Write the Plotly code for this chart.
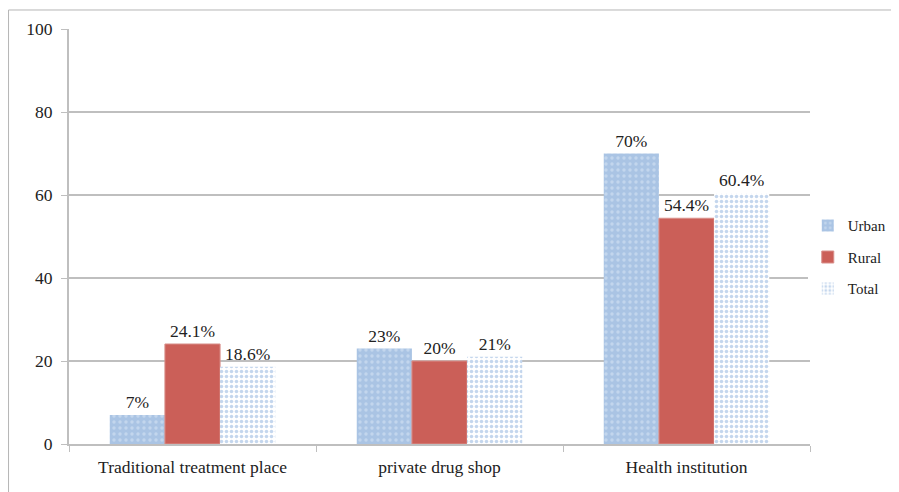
import plotly.graph_objects as go

categories = ["Traditional treatment place", "private drug shop", "Health institution"]
urban = [7, 23, 70]
rural = [24.1, 20, 54.4]
total = [18.6, 21, 60.4]
y_ticks = [0, 20, 40, 60, 80, 100]

FONT = "Liberation Serif"
FS = 17.5

def labels(vals):
    return [f"{v:g}%" for v in vals]

fig = go.Figure()
fig.add_trace(go.Bar(
    name="Urban", x=categories, y=urban, text=labels(urban),
    textposition="outside", legendgroup="u",
    marker=dict(color="#adc6e5", line=dict(width=0),
                pattern=dict(shape=".", bgcolor="#aac4e4", fgcolor="#dbe7f5", size=6, solidity=0.25)),
))
fig.add_trace(go.Bar(
    name="Rural", x=categories, y=rural, text=labels(rural),
    textposition="outside", legendgroup="r",
    marker=dict(color="#cb5f58", line=dict(width=1, color="#d9908b")),
))
fig.add_trace(go.Bar(
    name="Total", x=categories, y=total, text=labels(total),
    textposition="outside", legendgroup="t",
    marker=dict(color="white", line=dict(width=0),
                pattern=dict(shape=".", bgcolor="white", fgcolor="#89aedc", size=5, solidity=0.4)),
))

fig.update_traces(textfont=dict(family=FONT, size=FS, color="#222222"), cliponaxis=False)

fig.update_layout(
    width=899, height=492,
    margin=dict(l=61, r=97, t=21, b=56, autoexpand=False),
    paper_bgcolor="white", plot_bgcolor="white",
    barmode="group", bargap=0.33, bargroupgap=0,
    font=dict(family=FONT, size=FS, color="#222222"),
    showlegend=True,
    legend=dict(x=0.997, y=0.45, xanchor="left", yanchor="middle",
                font=dict(family=FONT, size=15, color="#222222"),
                tracegroupgap=9, itemwidth=30),
    xaxis=dict(showline=True, linecolor="#bfbfbf", linewidth=2,
               ticks="outside", tickson="boundaries", ticklen=6, tickcolor="#bfbfbf",
               ticklabelstandoff=6,
               tickfont=dict(family=FONT, size=FS, color="#222222"), showgrid=False),
    yaxis=dict(range=[0, 100], tickvals=y_ticks, showline=True, linecolor="#bfbfbf", linewidth=2,
               ticks="outside", ticklen=6, tickcolor="#bfbfbf", ticklabelstandoff=5,
               gridcolor="#bfbfbf", gridwidth=1.5, zeroline=False,
               tickfont=dict(family=FONT, size=FS, color="#222222")),
    shapes=[dict(type="line", xref="paper", yref="paper", x0=-0.0816, x1=1.2, y0=1.0458, y1=1.0458,
                 line=dict(color="#b5b5b5", width=1)),
            dict(type="line", xref="paper", yref="paper", x0=-0.0816, x1=-0.0816, y0=1.0458, y1=-0.2,
                 line=dict(color="#b5b5b5", width=1))],
)

fig.write_html("out.html")
